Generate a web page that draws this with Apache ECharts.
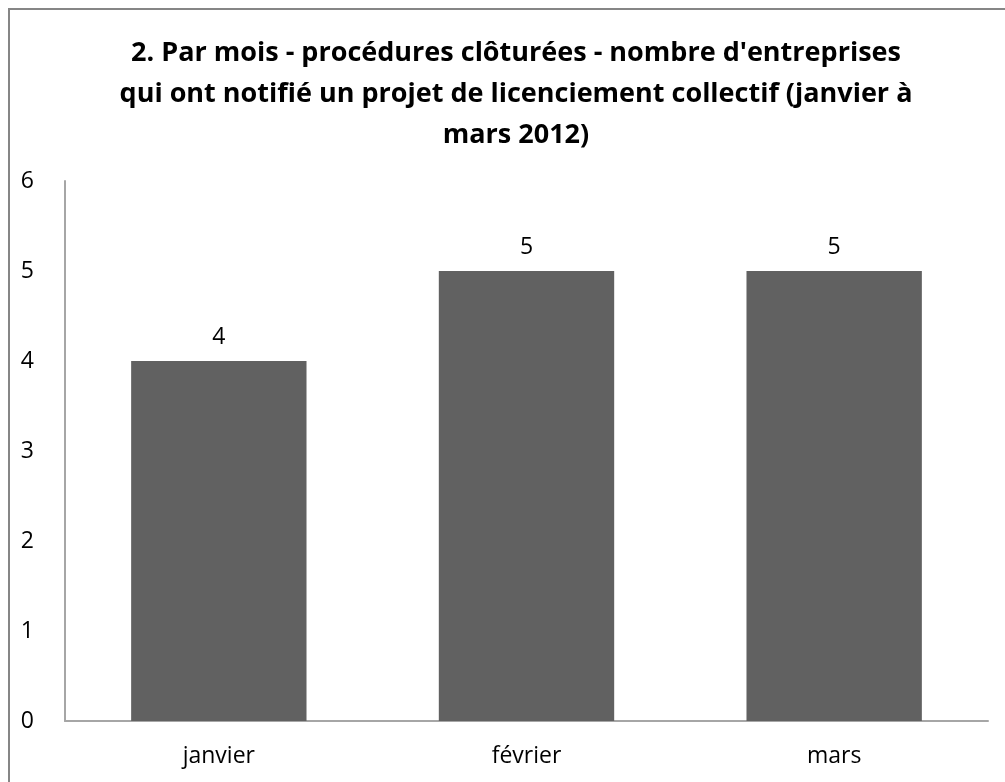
<!DOCTYPE html>
<html>
<head>
<meta charset="utf-8">
<script src="https://cdn.jsdelivr.net/npm/echarts@6/dist/echarts.min.js"></script>
<style>
  html, body { margin: 0; padding: 0; background: #fff; }
  #chart { width: 1005px; height: 782px; }
</style>
</head>
<body>
<div id="chart"></div>
<script>
  // data
  const months = ['janvier', 'février', 'mars']
  const companies = [4, 5, 5]
  const yTicks = { min: 0, max: 6, step: 1 }
  const titleText = "2. Par mois - procédures clôturées - nombre d'entreprises\nqui ont notifié un projet de licenciement collectif (janvier à\nmars 2012)"

  const chart = echarts.init(document.getElementById('chart'))
  chart.setOption({
    animation: false,
    textStyle: { fontFamily: '"Open Sans", sans-serif' },
    title: {
      text: titleText,
      left: 511,
      textAlign: 'center',
      top: 28,
      textStyle: {
        fontSize: 27,
        fontWeight: 'bold',
        color: '#000',
        lineHeight: 41,
        fontFamily: '"Open Sans", sans-serif'
      }
    },
    graphic: [{
      type: 'rect',
      shape: { x: 9, y: 9, width: 1100, height: 1000 },
      style: { fill: 'none', stroke: '#868686', lineWidth: 2 }
    }],
    grid: { left: 65, right: 17, top: 181, bottom: 61 },
    xAxis: {
      type: 'category',
      data: months,
      axisLine: { lineStyle: { color: '#a6a6a6', width: 2 } },
      axisTick: { show: false },
      axisLabel: { color: '#000', fontSize: 23, margin: 24 }
    },
    yAxis: {
      type: 'value',
      min: yTicks.min,
      max: yTicks.max,
      interval: yTicks.step,
      axisLine: { show: true, lineStyle: { color: '#a6a6a6', width: 2 } },
      axisTick: { show: false },
      splitLine: { show: false },
      axisLabel: { color: '#000', fontSize: 23, margin: 31 }
    },
    series: [{
      type: 'bar',
      data: companies,
      barWidth: '57%',
      itemStyle: { color: '#616161' },
      label: {
        show: true,
        position: 'top',
        distance: 12,
        color: '#000',
        fontSize: 23
      }
    }]
  })
</script>
</body>
</html>
